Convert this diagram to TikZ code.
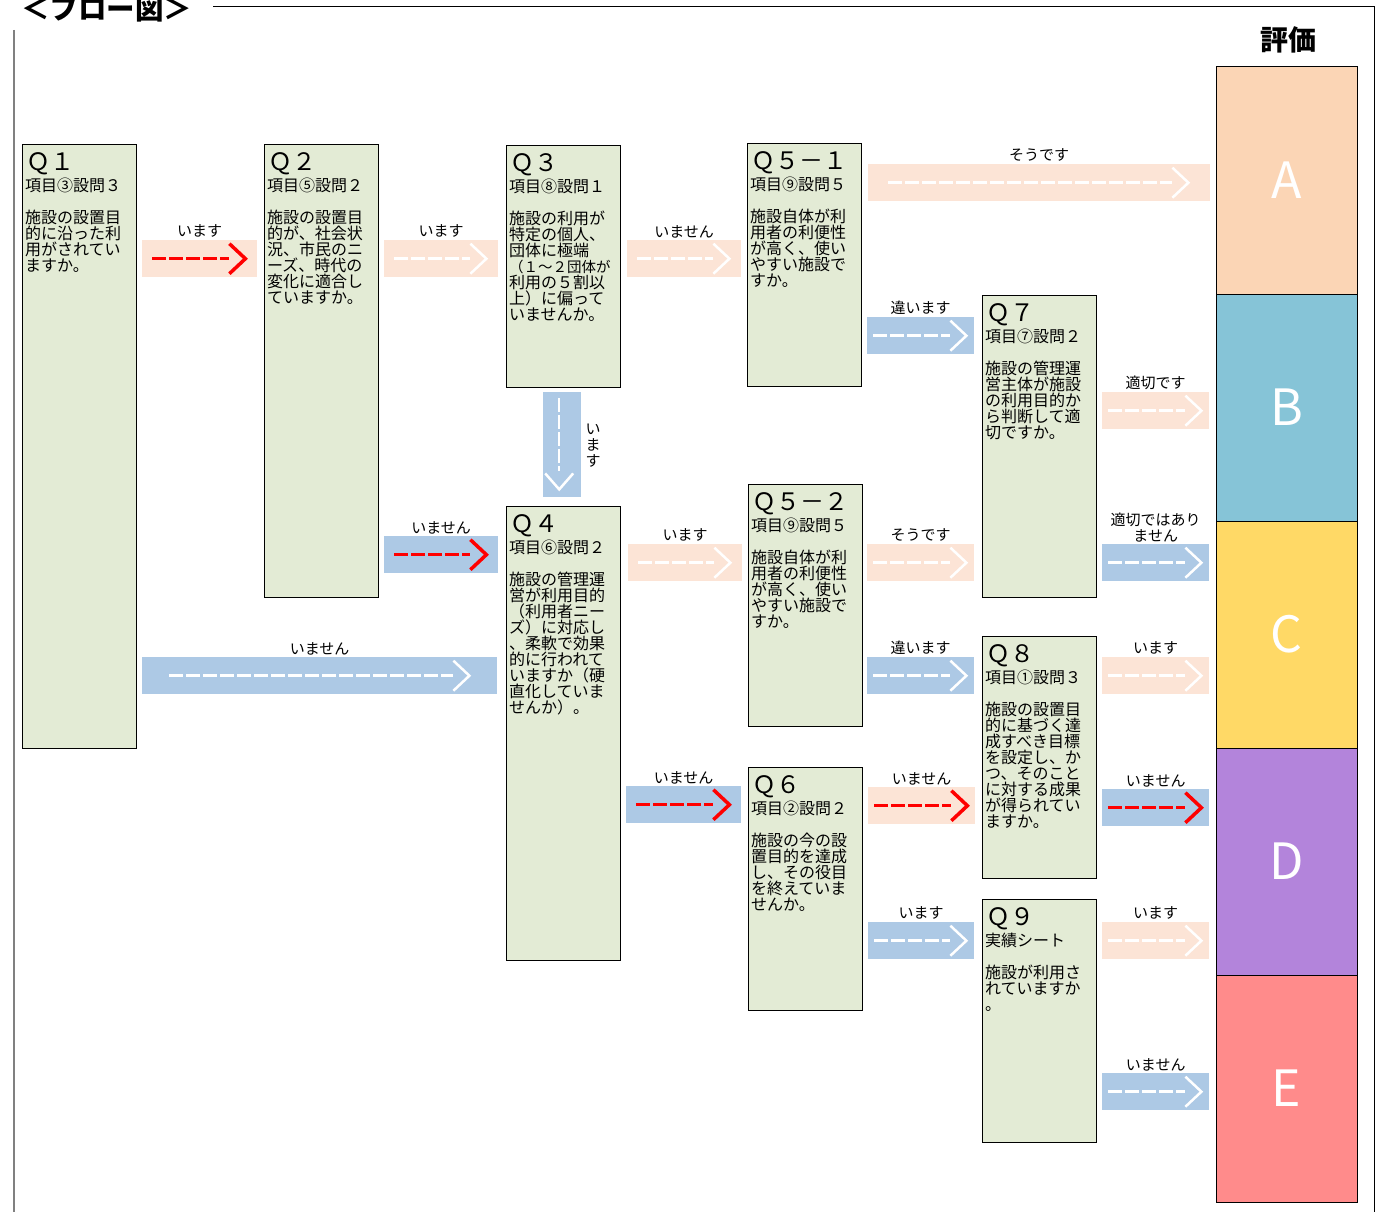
\documentclass[tikz,border=0pt]{standalone}
\usepackage{fontspec}
\setmainfont{Noto Sans CJK JP}
\usetikzlibrary{positioning}

\definecolor{boxgreen}{RGB}{227,235,213}
\definecolor{arrpeach}{RGB}{252,228,214}
\definecolor{arrblue}{RGB}{173,201,229}
\definecolor{evalA}{RGB}{251,213,181}
\definecolor{evalB}{RGB}{134,196,215}
\definecolor{evalC}{RGB}{255,217,102}
\definecolor{evalD}{RGB}{179,132,219}
\definecolor{evalE}{RGB}{255,139,139}

\tikzset{
  qbox/.style={draw=black, line width=1pt, fill=boxgreen, anchor=north west,
    minimum width=114pt, inner sep=0pt},
  qhead/.style={anchor=west, inner sep=0pt, font=\fontsize{24}{26}\selectfont},
  qtext/.style={anchor=north west, align=left, inner sep=0pt,
    font=\fontsize{16}{16}\selectfont},
  arrbox/.style={anchor=north west, inner sep=0pt, minimum height=37pt},
  lbl/.style={font=\fontsize{15}{16}\selectfont, inner sep=0pt, label distance=2pt},
  whitemark/.style={draw=white, line width=2.5pt},
  redmark/.style={draw=red, line width=3.5pt},
  evalbox/.style={draw=black, line width=1pt, minimum width=141pt, minimum height=227pt,
    inner sep=0pt, text=white, font=\fontsize{50}{50}\selectfont},
}

% question card: name, x, y, height, heading, text
\newcommand{\qcard}[6]{%
  \node[qbox, minimum height=#4pt] (#1) at (#2,#3) {};
  \node[qhead] (#1h) at ([xshift=4pt,yshift=-19.5pt]#1.north west) {#5};
  \node[qtext] (#1t) at ([xshift=3pt,yshift=-34pt]#1.north west) {#6};
}
% dashes and chevron inside an arrow box: node, style, left inset, tip inset
\newcommand{\arrowmark}[4]{%
  \draw[#2, dash pattern=on 14pt off 3pt] ([xshift=#3pt]#1.west) -- ([xshift=-#4pt-16pt]#1.east);
  \draw[#2] ([xshift=-#4pt-16pt,yshift=15pt]#1.east) -- ([xshift=-#4pt]#1.east)
    -- ([xshift=-#4pt-16pt,yshift=-15pt]#1.east);
}

\begin{document}
\begin{tikzpicture}[x=1pt,y=-1pt]
\useasboundingbox (0,0) rectangle (1382,1212);

% frame and headings
\draw[line width=1pt] (213,7) -- (1374,7) -- (1374,1212);
\draw[gray, line width=2pt] (14,30) -- (14,1212);
\node[anchor=west, inner sep=0pt, font=\fontsize{28.5}{28.5}\selectfont\bfseries] (title) at (21,9) {＜フロー図＞};
\node[font=\fontsize{28}{28}\selectfont\bfseries] (evalhead) at (1288,40) {評価};

% question cards
\qcard{q1}{22}{144}{604}{Ｑ１}{項目③設問３\\[16pt]施設の設置目\\的に沿った利\\用がされてい\\ますか。}
\qcard{q2}{264}{144}{453}{Ｑ２}{項目⑤設問２\\[16pt]施設の設置目\\的が、社会状\\況、市民のニ\\ーズ、時代の\\変化に適合し\\ていますか。}
\qcard{q3}{506}{145}{242}{Ｑ３}{項目⑧設問１\\[16pt]施設の利用が\\特定の個人、\\団体に極端\\{\fontsize{14.5}{16}\selectfont （１～２団体が}\\利用の５割以\\上）に偏って\\いませんか。}
\qcard{q51}{747}{143}{243}{Ｑ５－１}{項目⑨設問５\\[16pt]施設自体が利\\用者の利便性\\が高く、使い\\やすい施設で\\すか。}
\qcard{q7}{982}{295}{302}{Ｑ７}{項目⑦設問２\\[16pt]施設の管理運\\営主体が施設\\の利用目的か\\ら判断して適\\切ですか。}
\qcard{q4}{506}{506}{454}{Ｑ４}{項目⑥設問２\\[16pt]施設の管理運\\営が利用目的\\（利用者ニー\\ズ）に対応し\\、柔軟で効果\\的に行われて\\いますか（硬\\直化していま\\せんか）。}
\qcard{q52}{748}{484}{242}{Ｑ５－２}{項目⑨設問５\\[16pt]施設自体が利\\用者の利便性\\が高く、使い\\やすい施設で\\すか。}
\qcard{q8}{982}{636}{242}{Ｑ８}{項目①設問３\\[16pt]施設の設置目\\的に基づく達\\成すべき目標\\を設定し、か\\つ、そのこと\\に対する成果\\が得られてい\\ますか。}
\qcard{q6}{748}{767}{243}{Ｑ６}{項目②設問２\\[16pt]施設の今の設\\置目的を達成\\し、その役目\\を終えていま\\せんか。}
\qcard{q9}{982}{899}{243}{Ｑ９}{実績シート\\[16pt]施設が利用さ\\れていますか\\。}

% evaluation column
\node[evalbox, fill=evalA] (evA) at (1286.5,180.5) {A};
\node[evalbox, fill=evalB] (evB) at (1286.5,407.5) {B};
\node[evalbox, fill=evalC] (evC) at (1286.5,634.5) {C};
\node[evalbox, fill=evalD] (evD) at (1286.5,861.5) {D};
\node[evalbox, fill=evalE] (evE) at (1286.5,1088.5) {E};

% arrows
\node[arrbox, fill=arrpeach, minimum width=115pt, label={[lbl]above:います}] (a12) at (142,240) {};
\arrowmark{a12}{redmark}{10}{12}
\node[arrbox, fill=arrpeach, minimum width=114pt, label={[lbl]above:います}] (a23) at (384,240) {};
\arrowmark{a23}{whitemark}{10}{12}
\node[arrbox, fill=arrpeach, minimum width=114pt, label={[lbl]above:いません}] (a35) at (627,240) {};
\arrowmark{a35}{whitemark}{10}{12}
\node[arrbox, fill=arrpeach, minimum width=342pt, label={[lbl]above:そうです}] (a5A) at (868,164) {};
\arrowmark{a5A}{whitemark}{20}{22}
\node[arrbox, fill=arrblue, minimum width=107pt, label={[lbl]above:違います}] (a57) at (867,317) {};
\arrowmark{a57}{whitemark}{6}{8}
\node[arrbox, fill=arrblue, minimum width=114pt, label={[lbl]above:いません}] (a24) at (384,536) {};
\arrowmark{a24}{redmark}{10}{12}
\node[arrbox, fill=arrblue, minimum width=355pt, label={[lbl]above:いません}] (a14) at (142,657) {};
\arrowmark{a14}{whitemark}{27}{28}
\node[arrbox, fill=arrpeach, minimum width=114pt, label={[lbl]above:います}] (a45) at (628,544) {};
\arrowmark{a45}{whitemark}{10}{12}
\node[arrbox, fill=arrblue, minimum width=115pt, label={[lbl]above:いません}] (a46) at (626,786) {};
\arrowmark{a46}{redmark}{10}{12}
\node[arrbox, fill=arrpeach, minimum width=107pt, label={[lbl]above:そうです}] (a5C) at (867,544) {};
\arrowmark{a5C}{whitemark}{6}{8}
\node[arrbox, fill=arrblue, minimum width=107pt, label={[lbl]above:違います}] (a58) at (867,657) {};
\arrowmark{a58}{whitemark}{6}{8}
\node[arrbox, fill=arrpeach, minimum width=107pt, label={[lbl]above:いません}] (a68) at (868,787) {};
\arrowmark{a68}{redmark}{6}{8}
\node[arrbox, fill=arrblue, minimum width=106pt, label={[lbl]above:います}] (a69) at (868,922) {};
\arrowmark{a69}{whitemark}{6}{8}
\node[arrbox, fill=arrpeach, minimum width=107pt, label={[lbl]above:適切です}] (a7B) at (1102,392) {};
\arrowmark{a7B}{whitemark}{6}{8}
\node[arrbox, fill=arrblue, minimum width=107pt, label={[lbl, align=center]above:適切ではあり\\ません}] (a7C) at (1102,544) {};
\arrowmark{a7C}{whitemark}{6}{8}
\node[arrbox, fill=arrpeach, minimum width=107pt, label={[lbl]above:います}] (a8C) at (1102,657) {};
\arrowmark{a8C}{whitemark}{6}{8}
\node[arrbox, fill=arrblue, minimum width=107pt, label={[lbl]above:いません}] (a8D) at (1102,789) {};
\arrowmark{a8D}{redmark}{6}{8}
\node[arrbox, fill=arrpeach, minimum width=107pt, label={[lbl]above:います}] (a9D) at (1102,922) {};
\arrowmark{a9D}{whitemark}{6}{8}
\node[arrbox, fill=arrblue, minimum width=107pt, label={[lbl]above:いません}] (a9E) at (1102,1073) {};
\arrowmark{a9E}{whitemark}{6}{8}

% downward arrow Q3 to Q4
\node[arrbox, fill=arrblue, minimum width=38pt, minimum height=105pt] (a34) at (543,392) {};
\draw[whitemark, dash pattern=on 14pt off 3pt] ([xshift=-3pt,yshift=-6pt]a34.north) -- ([xshift=-3pt,yshift=26pt]a34.south);
\draw[whitemark] ([xshift=-17pt,yshift=24pt]a34.south) -- ([xshift=-3pt,yshift=8pt]a34.south)
  -- ([xshift=11pt,yshift=24pt]a34.south);
\node[align=center, inner sep=0pt, font=\fontsize{15}{16}\selectfont] (l34) at (593,446) {い\\ま\\す};
\end{tikzpicture}
\end{document}
